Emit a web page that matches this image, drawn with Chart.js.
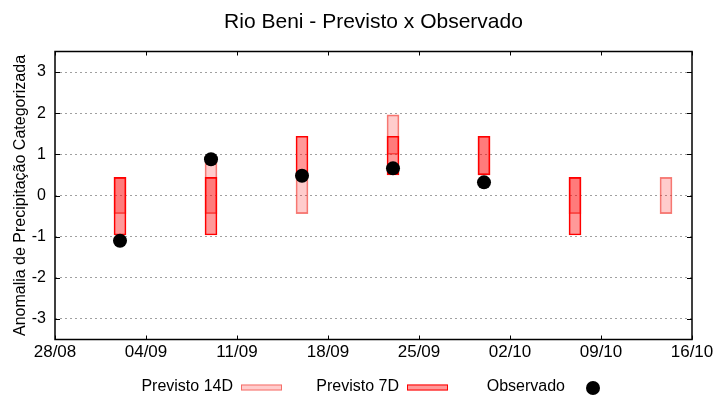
<!DOCTYPE html>
<html>
<head>
<meta charset="utf-8">
<script src="https://cdn.jsdelivr.net/npm/chart.js@4.4.1/dist/chart.umd.min.js"></script>
<style>
  html, body { margin: 0; padding: 0; background: #fff; }
  #wrap { width: 720px; height: 400px; }
</style>
</head>
<body>
<div id="wrap"><canvas id="grafico"></canvas></div>
<script>
// Eixo x: dias contados a partir de 28/08
const tickDias = [0, 7, 14, 21, 28, 35, 42, 49];
const tickRotulos = ['28/08', '04/09', '11/09', '18/09', '25/09', '02/10', '09/10', '16/10'];
const yTicks = [-3, -2, -1, 0, 1, 2, 3];

// Previsões (dia, limite inferior, limite superior)
const diasPrevisao = [5, 12, 19, 26, 33, 40, 47];
const previsto14Min = [-0.44, -0.44, -0.44, 1.0, 0.5, -0.44, -0.44];
const previsto14Max = [0.44, 0.96, 0.44, 1.96, 1.44, 0.44, 0.44];
const previsto7Min = [-0.96, -0.96, 0.44, 0.5, 0.5, -0.96, null];
const previsto7Max = [0.44, 0.44, 1.44, 1.44, 1.44, 0.44, null];

// Observado
const diasObservado = [5, 12, 19, 26, 33];
const observado = [-1.10, 0.88, 0.48, 0.66, 0.32];

const fonte = '"Liberation Sans", Arial, sans-serif';

function barras(mins, maxs) {
    const out = [];
    diasPrevisao.forEach((d, i) => {
        if (mins[i] !== null && maxs[i] !== null) out.push({x: d, y: [mins[i], maxs[i]]});
    });
    return out;
}

// Moldura, tiques internos, título e legenda no estilo gnuplot
const pluginMoldura = {
    id: 'moldura',
    afterDraw(chart) {
        const ctx = chart.ctx;
        const a = chart.chartArea;
        const sx = chart.scales.x;
        const sy = chart.scales.y;
        ctx.save();
        ctx.strokeStyle = '#000';
        ctx.lineWidth = 1.5;
        ctx.strokeRect(a.left, a.top, a.right - a.left, a.bottom - a.top);
        ctx.lineWidth = 1;
        ctx.beginPath();
        yTicks.forEach(v => {
            const py = Math.round(sy.getPixelForValue(v)) + 0.5;
            ctx.moveTo(a.left, py); ctx.lineTo(a.left + 5, py);
            ctx.moveTo(a.right, py); ctx.lineTo(a.right - 5, py);
        });
        tickDias.forEach(d => {
            const px = Math.round(sx.getPixelForValue(d)) + 0.5;
            ctx.moveTo(px, a.bottom); ctx.lineTo(px, a.bottom - 4);
            ctx.moveTo(px, a.top); ctx.lineTo(px, a.top + 4);
        });
        ctx.stroke();

        // título
        ctx.fillStyle = '#000';
        ctx.font = '21px ' + fonte;
        ctx.textAlign = 'center';
        ctx.textBaseline = 'alphabetic';
        ctx.fillText('Rio Beni - Previsto x Observado', 373.5, 28);

        // legenda
        ctx.font = '16px ' + fonte;
        ctx.textAlign = 'right';
        ctx.textBaseline = 'middle';
        const itens = chart.data.datasets;
        itens.forEach((ds, i) => {
            const x0 = 241 + i * 166;
            const yc = 387;
            ctx.fillStyle = '#000';
            ctx.fillText(ds.label, x0 - 8, yc);
            if (ds.type === 'scatter') {
                ctx.beginPath();
                ctx.arc(x0 + 20, yc + 1, 7, 0, Math.PI * 2);
                ctx.fillStyle = ds.backgroundColor;
                ctx.fill();
            } else {
                ctx.fillStyle = ds.backgroundColor;
                ctx.fillRect(x0, yc - 2.5, 41, 6);
                ctx.strokeStyle = ds.borderColor;
                ctx.lineWidth = 1;
                ctx.strokeRect(x0 + 0.5, yc - 2, 40, 5);
            }
        });
        ctx.restore();
    }
};

new Chart(document.getElementById('grafico'), {
    type: 'bar',
    data: {
        datasets: [
            {
                label: 'Previsto 14D',
                data: barras(previsto14Min, previsto14Max),
                backgroundColor: 'rgba(255, 0, 0, 0.2)',
                borderColor: 'rgba(240, 60, 50, 0.65)',
                borderWidth: 1,
                borderSkipped: false,
                barThickness: 12,
                grouped: false,
                order: 3
            },
            {
                label: 'Previsto 7D',
                data: barras(previsto7Min, previsto7Max),
                backgroundColor: 'rgba(255, 0, 0, 0.4)',
                borderColor: '#ff0000',
                borderWidth: 1,
                borderSkipped: false,
                barThickness: 12,
                grouped: false,
                order: 2
            },
            {
                type: 'scatter',
                label: 'Observado',
                data: diasObservado.map((d, i) => ({x: d, y: observado[i]})),
                backgroundColor: '#000',
                borderColor: '#000',
                borderWidth: 0,
                pointRadius: 7,
                pointHoverRadius: 7,
                order: 1
            }
        ]
    },
    options: {
        responsive: true,
        maintainAspectRatio: false,
        animation: false,
        events: [],
        layout: {
            padding: {left: 0, right: 28, top: 51.5, bottom: 35}
        },
        plugins: {
            legend: {display: false},
            title: {display: false},
            tooltip: {enabled: false}
        },
        scales: {
            x: {
                type: 'linear',
                min: 0,
                max: 49,
                offset: false,
                afterBuildTicks: s => { s.ticks = tickDias.map(v => ({value: v})); },
                afterFit: s => { s.height = 25.5; },
                grid: {display: false, drawTicks: false, offset: false},
                border: {display: false},
                ticks: {
                    padding: 3,
                    color: '#000',
                    maxRotation: 0,
                    autoSkip: false,
                    font: {family: fonte, size: 17},
                    callback: v => tickRotulos[tickDias.indexOf(v)]
                }
            },
            y: {
                min: -3.5,
                max: 3.5,
                afterBuildTicks: s => { s.ticks = yTicks.map(v => ({value: v})); },
                afterFit: s => { s.width = 55; },
                grid: {color: '#a0a0a0', lineWidth: 1, drawTicks: false},
                border: {display: false, dash: [2, 3]},
                ticks: {
                    padding: 9,
                    color: '#000',
                    font: {family: fonte, size: 16}
                },
                title: {
                    display: true,
                    text: 'Anomalia de Precipitação Categorizada',
                    color: '#000',
                    font: {family: fonte, size: 16},
                    padding: {top: 11, bottom: 0}
                }
            }
        }
    },
    plugins: [pluginMoldura]
});
</script>
</body>
</html>
